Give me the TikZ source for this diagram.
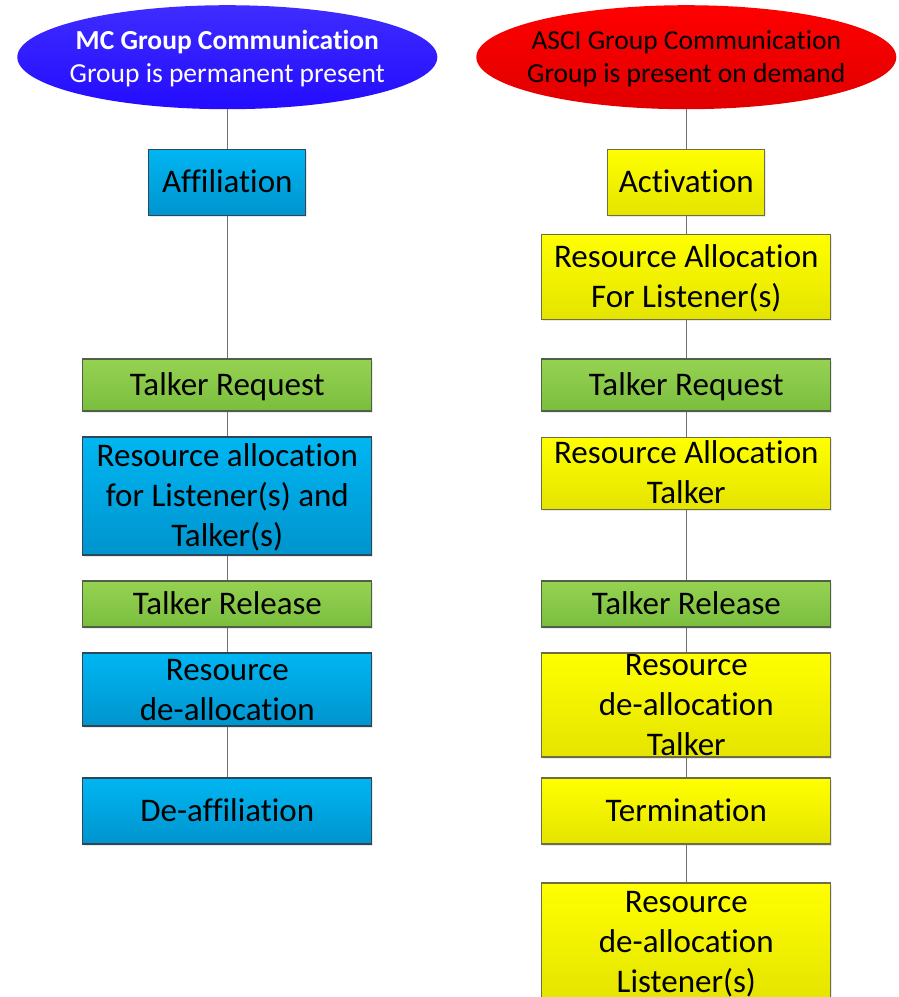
\documentclass[tikz,border=0pt]{standalone}
\usepackage{fontspec}
\setmainfont{Carlito}[Ligatures=NoCommon]
\usetikzlibrary{shapes.geometric,shadows}
% line struts so that every text line takes exactly one baseline step
\newcommand\bxs{\rule[-9.4pt]{0pt}{40pt}}
\newcommand\ovs{\rule[-7.6pt]{0pt}{33pt}}
\definecolor{bluetop}{RGB}{0,182,242}
\definecolor{bluebot}{RGB}{0,148,206}
\definecolor{blueedge}{RGB}{45,70,88}
\definecolor{greentop}{RGB}{150,210,82}
\definecolor{greenbot}{RGB}{122,190,62}
\definecolor{greenedge}{RGB}{80,95,70}
\definecolor{yellowtop}{RGB}{255,255,0}
\definecolor{yellowbot}{RGB}{228,228,0}
\definecolor{yellowedge}{RGB}{110,110,70}
\definecolor{ovalbluetop}{RGB}{62,44,255}
\definecolor{ovalbluebot}{RGB}{36,12,255}
\definecolor{ovalredtop}{RGB}{255,0,0}
\definecolor{ovalredbot}{RGB}{224,0,0}
\definecolor{connline}{RGB}{112,112,112}
\begin{document}
\begin{tikzpicture}[x=1pt,y=-1pt,
  boxbase/.style={rectangle, inner sep=0pt, line width=1.1pt,
    drop shadow={shadow xshift=1.5pt,shadow yshift=-1.5pt,opacity=0.18}},
  bluebox/.style={boxbase, draw=blueedge, top color=bluetop, bottom color=bluebot},
  greenbox/.style={boxbase, draw=greenedge, top color=greentop, bottom color=greenbot},
  yellowbox/.style={boxbase, draw=yellowedge, top color=yellowtop, bottom color=yellowbot},
  wide/.style={minimum width=289pt},
  narrow/.style={minimum width=157pt},
  oval/.style={ellipse, inner sep=0pt, minimum width=420pt, minimum height=104pt},
  lbl/.style={font=\fontsize{33}{40}\selectfont, align=center, inner sep=0pt, text=black},
  ovallbl/.style={font=\fontsize{27.5}{33}\selectfont, align=center, inner sep=0pt},
  conn/.style={draw=connline, line width=1.2pt}]

\useasboundingbox (0,0) rectangle (899,997);
\clip (0,0) rectangle (899,997);

% ---------------- MC group communication (left column)
\node[oval, top color=ovalbluetop, bottom color=ovalbluebot] (ovL) at (227.3,57.2) {};
\node[ovallbl, text=white] (ovLt) at (ovL.center)
  {\ovs\textbf{MC Group Communication}\\\ovs Group is permanent present};

\node[bluebox, narrow, minimum height=66pt] (affil) at (227.3,182.3) {};
\node[lbl] (affilt) at (affil.center) {\bxs Affiliation};

\node[greenbox, wide, minimum height=52pt] (treqL) at (227.3,385) {};
\node[lbl] (treqLt) at (treqL.center) {\bxs Talker Request};

\node[bluebox, wide, minimum height=118pt] (rallocL) at (227.3,496) {};
\node[lbl] (rallocLt) at (rallocL.center)
  {\bxs Resource allocation\\\bxs for Listener(s) and\\\bxs Talker(s)};

\node[greenbox, wide, minimum height=46pt] (trelL) at (227.3,604) {};
\node[lbl] (trelLt) at (trelL.center) {\bxs Talker Release};

\node[bluebox, wide, minimum height=73pt] (rdeL) at (227.3,689.5) {};
\node[lbl] (rdeLt) at (rdeL.center) {\bxs Resource\\\bxs de-allocation};

\node[bluebox, wide, minimum height=66pt] (deaff) at (227.3,811) {};
\node[lbl] (deafft) at (deaff.center) {\bxs De-affiliation};

% ---------------- ASCI group communication (right column)
\node[oval, top color=ovalredtop, bottom color=ovalredbot] (ovR) at (686.3,57.2) {};
\node[ovallbl, text=black] (ovRt) at (ovR.center)
  {\ovs ASCI Group Communication\\\ovs Group is present on demand};

\node[yellowbox, narrow, minimum height=66pt] (activ) at (686.3,182.3) {};
\node[lbl] (activt) at (activ.center) {\bxs Activation};

\node[yellowbox, wide, minimum height=85pt] (rallocLis) at (686.3,276.8) {};
\node[lbl] (rallocList) at (rallocLis.center) {\bxs Resource Allocation\\\bxs For Listener(s)};

\node[greenbox, wide, minimum height=52pt] (treqR) at (686.3,385) {};
\node[lbl] (treqRt) at (treqR.center) {\bxs Talker Request};

\node[yellowbox, wide, minimum height=72pt] (rallocTk) at (686.3,473.3) {};
\node[lbl] (rallocTkt) at (rallocTk.center) {\bxs Resource Allocation\\\bxs Talker};

\node[greenbox, wide, minimum height=46pt] (trelR) at (686.3,604) {};
\node[lbl] (trelRt) at (trelR.center) {\bxs Talker Release};

\node[yellowbox, wide, minimum height=104pt] (rdeTk) at (686.3,705) {};
\node[lbl] (rdeTkt) at (rdeTk.center) {\bxs Resource\\\bxs de-allocation\\\bxs Talker};

\node[yellowbox, wide, minimum height=66pt] (term) at (686.3,811) {};
\node[lbl] (termt) at (term.center) {\bxs Termination};

\node[yellowbox, wide, minimum height=118pt] (rdeLis) at (686.3,942) {};
\node[lbl] (rdeList) at (rdeLis.center) {\bxs Resource\\\bxs de-allocation\\\bxs Listener(s)};

% ---------------- connectors
\foreach \a/\b in {ovL/affil, affil/treqL, treqL/rallocL, rallocL/trelL, trelL/rdeL, rdeL/deaff,
                   ovR/activ, activ/rallocLis, rallocLis/treqR, treqR/rallocTk, rallocTk/trelR,
                   trelR/rdeTk, rdeTk/term, term/rdeLis}
  \draw[conn] (\a.south) -- (\b.north);
\end{tikzpicture}
\end{document}
